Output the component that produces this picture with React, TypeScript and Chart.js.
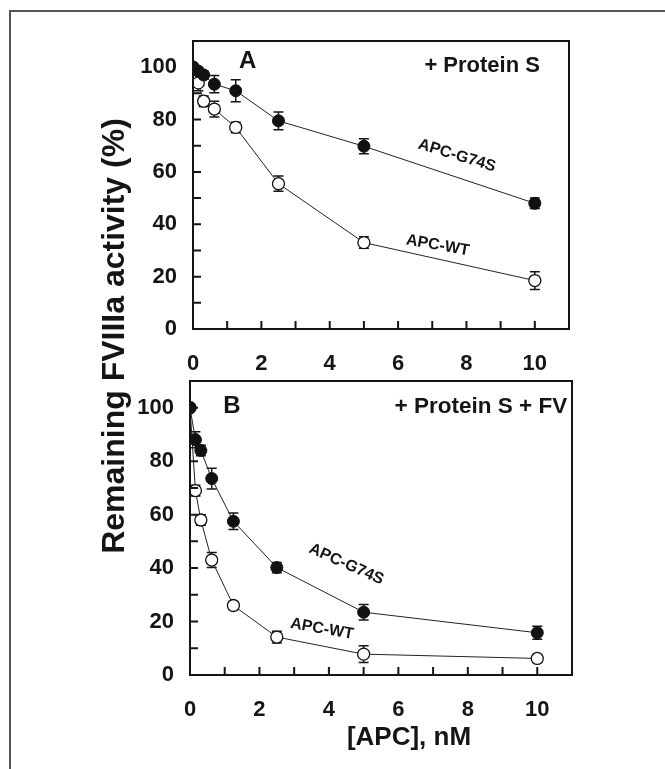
import React, { useEffect, useRef } from 'react';
import { Chart, registerables } from 'chart.js';

Chart.register(...registerables);

// ---------- data ----------
const doses = [0, 0.156, 0.3125, 0.625, 1.25, 2.5, 5, 10];

const panelA_G74S = [100, 98.5, 97, 93.5, 91, 79.5, 69.8, 48];
const panelA_G74S_err = [0, 1, 1.5, 3.3, 4.2, 3.4, 2.9, 2];
const panelA_WT = [100, 94, 87, 84, 77, 55.5, 33, 18.5];
const panelA_WT_err = [0, 3, 2, 3, 2, 2.9, 2.2, 3.4];

const panelB_G74S = [100, 88, 84, 73.5, 57.5, 40.2, 23.5, 15.8];
const panelB_G74S_err = [0, 3, 2, 3.9, 3.1, 1.9, 2.9, 2.4];
const panelB_WT = [100, 69, 58, 43, 26, 14.2, 7.8, 6.2];
const panelB_WT_err = [0, 2, 2, 2.8, 1.5, 2.2, 3.1, 1.5];

const xTickStep = 2;
const yTickStep = 20;
const xMax = 11;
const yMax = 110;

const yTitle = 'Remaining FVIIIa activity (%)';
const xTitle = '[APC], nM';

const FONT = '"Liberation Sans", Arial, Helvetica, sans-serif';
const INK = '#151515';

type Note = { text: string; x: number; y: number; size: number; align: CanvasTextAlign; angle: number };

type Panel = {
  area: { left: number; top: number; right: number; bottom: number };
  filled: number[];
  filledErr: number[];
  open: number[];
  openErr: number[];
  notes: Note[];
  isTop: boolean;
};

const W = 665;
const H = 769;

const panelA: Panel = {
  area: { left: 193, top: 41, right: 569, bottom: 329 },
  filled: panelA_G74S,
  filledErr: panelA_G74S_err,
  open: panelA_WT,
  openErr: panelA_WT_err,
  notes: [
    { text: 'A', x: 1.6, y: 102.3, size: 24, align: 'center', angle: 0 },
    { text: '+ Protein S', x: 10.15, y: 100.6, size: 22, align: 'right', angle: 0 },
    { text: 'APC-G74S', x: 7.72, y: 66.2, size: 16, align: 'center', angle: 17 },
    { text: 'APC-WT', x: 7.16, y: 31.9, size: 16, align: 'center', angle: 10 },
  ],
  isTop: true,
};

const panelB: Panel = {
  area: { left: 190, top: 381, right: 572, bottom: 675 },
  filled: panelB_G74S,
  filledErr: panelB_G74S_err,
  open: panelB_WT,
  openErr: panelB_WT_err,
  notes: [
    { text: 'B', x: 1.21, y: 100.4, size: 24, align: 'center', angle: 0 },
    { text: '+ Protein S + FV', x: 10.86, y: 100.4, size: 22.5, align: 'right', angle: 0 },
    { text: 'APC-G74S', x: 4.5, y: 41.4, size: 16, align: 'center', angle: 24 },
    { text: 'APC-WT', x: 3.8, y: 17.2, size: 16, align: 'center', angle: 10 },
  ],
  isTop: false,
};

function makeChart(canvas: HTMLCanvasElement, p: Panel) {
  const X_AXIS_H = 50;
  const decor = {
    id: 'decor' + (p.isTop ? 'A' : 'B'),
    beforeDraw(chart: any) {
      if (!p.isTop) return;
      const ctx = chart.ctx;
      ctx.save();
      ctx.strokeStyle = '#555';
      ctx.lineWidth = 2;
      ctx.beginPath();
      ctx.moveTo(10, H);
      ctx.lineTo(10, 11);
      ctx.lineTo(W, 11);
      ctx.stroke();
      ctx.restore();
    },
    beforeDatasetsDraw(chart: any) {
      const ctx = chart.ctx;
      const xs = chart.scales.x;
      const ys = chart.scales.y;
      ctx.save();
      ctx.strokeStyle = INK;
      ctx.lineWidth = 1.5;
      const sets: [number[], number[]][] = [
        [p.filled, p.filledErr],
        [p.open, p.openErr],
      ];
      for (const [vals, errs] of sets) {
        vals.forEach((v, j) => {
          const e = errs[j];
          if (!e) return;
          const px = xs.getPixelForValue(doses[j]);
          const y1 = ys.getPixelForValue(v + e);
          const y2 = ys.getPixelForValue(v - e);
          ctx.beginPath();
          ctx.moveTo(px, y1);
          ctx.lineTo(px, y2);
          ctx.moveTo(px - 5, y1);
          ctx.lineTo(px + 5, y1);
          ctx.moveTo(px - 5, y2);
          ctx.lineTo(px + 5, y2);
          ctx.stroke();
        });
      }
      ctx.restore();
    },
    afterDraw(chart: any) {
      const ctx = chart.ctx;
      const a = chart.chartArea;
      const xs = chart.scales.x;
      const ys = chart.scales.y;
      ctx.save();
      // frame box
      ctx.strokeStyle = INK;
      ctx.lineWidth = 2;
      ctx.strokeRect(a.left, a.top, a.right - a.left, a.bottom - a.top);
      // inward minor ticks
      ctx.beginPath();
      for (let v = 1; v <= 10; v++) {
        const px = xs.getPixelForValue(v);
        ctx.moveTo(px, a.bottom);
        ctx.lineTo(px, a.bottom - 8);
      }
      for (let v = 10; v <= 100; v += 10) {
        const py = ys.getPixelForValue(v);
        ctx.moveTo(a.left, py);
        ctx.lineTo(a.left + 8, py);
      }
      ctx.stroke();
      // notes
      ctx.fillStyle = INK;
      for (const n of p.notes) {
        ctx.save();
        ctx.translate(xs.getPixelForValue(n.x), ys.getPixelForValue(n.y));
        ctx.rotate((n.angle * Math.PI) / 180);
        ctx.font = `bold ${n.size}px ${FONT}`;
        ctx.textAlign = n.align;
        ctx.textBaseline = 'middle';
        ctx.fillText(n.text, 0, 0);
        ctx.restore();
      }
      if (p.isTop) {
        ctx.save();
        ctx.translate(115, 336);
        ctx.rotate(-Math.PI / 2);
        ctx.font = `bold 32px ${FONT}`;
        ctx.textAlign = 'center';
        ctx.textBaseline = 'middle';
        ctx.fillText(yTitle, 0, 0);
        ctx.restore();
      } else {
        ctx.font = `bold 26px ${FONT}`;
        ctx.textAlign = 'center';
        ctx.textBaseline = 'middle';
        ctx.fillText(xTitle, 409, 738);
      }
      ctx.restore();
    },
  };

  return new Chart(canvas, {
    type: 'line',
    data: {
      datasets: [
        {
          label: 'APC-G74S',
          data: doses.map((d, i) => ({ x: d, y: p.filled[i] })),
          borderColor: '#222',
          borderWidth: 1,
          pointRadius: 6,
          pointBackgroundColor: '#111',
          pointBorderColor: '#111',
          pointBorderWidth: 1,
        },
        {
          label: 'APC-WT',
          data: doses.map((d, i) => ({ x: d, y: p.open[i] })),
          borderColor: '#222',
          borderWidth: 1,
          pointRadius: 6,
          pointBackgroundColor: '#fff',
          pointBorderColor: '#111',
          pointBorderWidth: 1.3,
        },
      ],
    },
    options: {
      animation: false,
      responsive: false,
      devicePixelRatio: 1,
      events: [],
      layout: {
        padding: {
          left: 0,
          top: p.area.top,
          right: W - p.area.right,
          bottom: H - p.area.bottom - X_AXIS_H,
        },
      },
      plugins: { legend: { display: false }, tooltip: { enabled: false } },
      scales: {
        x: {
          type: 'linear',
          min: 0,
          max: xMax,
          grid: { display: false, drawTicks: false },
          border: { display: false },
          afterFit: (s: any) => {
            s.height = X_AXIS_H;
          },
          ticks: {
            stepSize: xTickStep,
            includeBounds: false,
            padding: 22,
            color: INK,
            font: { family: FONT, size: 22, weight: 'bold' },
            maxRotation: 0,
            callback: (v: any) => String(v),
          },
        },
        y: {
          type: 'linear',
          min: 0,
          max: yMax,
          grid: { display: false, drawTicks: false },
          border: { display: false },
          afterFit: (s: any) => {
            s.width = p.area.left;
          },
          ticks: {
            stepSize: yTickStep,
            includeBounds: false,
            padding: 16,
            color: INK,
            font: { family: FONT, size: 22, weight: 'bold' },
            callback: (v: any) => String(v),
          },
        },
      },
    },
    plugins: [decor],
  } as any);
}

export default function App() {
  const refA = useRef<HTMLCanvasElement>(null);
  const refB = useRef<HTMLCanvasElement>(null);
  useEffect(() => {
    const a = makeChart(refA.current!, panelA);
    const b = makeChart(refB.current!, panelB);
    return () => {
      a.destroy();
      b.destroy();
    };
  }, []);
  const cs: React.CSSProperties = { position: 'absolute', left: 0, top: 0, width: W, height: H };
  return (
    <div style={{ position: 'absolute', left: 0, top: 0, width: W, height: H, background: '#fff' }}>
      <canvas ref={refA} width={W} height={H} style={cs} />
      <canvas ref={refB} width={W} height={H} style={cs} />
    </div>
  );
}
